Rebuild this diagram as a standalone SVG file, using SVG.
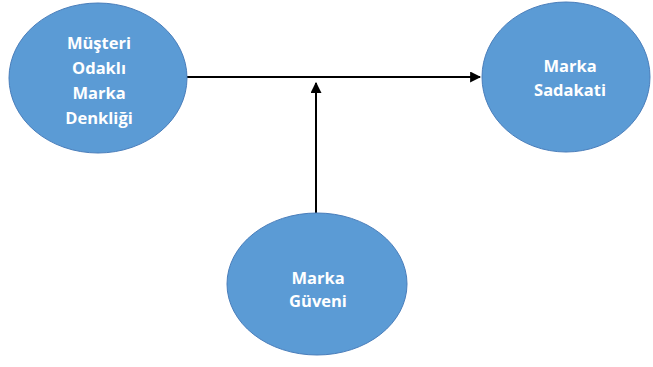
<svg xmlns="http://www.w3.org/2000/svg" width="653" height="367" viewBox="0 0 653 367">
  <style>
    .node ellipse { fill: #5B9BD5; stroke: #4A7EBB; stroke-width: 1; }
    .node text { fill: #FFFFFF; font-family: "Open Sans", "Liberation Sans", sans-serif; font-weight: bold; font-size: 16.5px; text-anchor: middle; dominant-baseline: central; }
    .edge { stroke: #000000; stroke-width: 2; fill: none; }
  </style>
  <defs>
    <marker id="arrow" viewBox="0 0 10 10" refX="9" refY="5" markerWidth="5.5" markerHeight="5.5" orient="auto" markerUnits="strokeWidth">
      <path d="M0,0 L10,5 L0,10 Z" fill="#000000"/>
    </marker>
  </defs>
  <rect width="653" height="367" fill="#FFFFFF"/>

  <g id="connectors">
    <line class="edge" x1="187" y1="77" x2="480" y2="77" marker-end="url(#arrow)"/>
    <line class="edge" x1="316" y1="213" x2="316" y2="83" marker-end="url(#arrow)"/>
  </g>

  <g id="node-musteri" class="node">
    <ellipse cx="98" cy="78" rx="89" ry="75"/>
    <text x="99" y="42">Müşteri</text>
    <text x="99" y="67">Odaklı</text>
    <text x="99" y="92">Marka</text>
    <text x="99" y="117">Denkliği</text>
  </g>

  <g id="node-sadakat" class="node">
    <ellipse cx="566" cy="77" rx="84" ry="75"/>
    <text x="570" y="65">Marka</text>
    <text x="570" y="89">Sadakati</text>
  </g>

  <g id="node-guven" class="node">
    <ellipse cx="317" cy="284" rx="90" ry="71"/>
    <text x="318" y="277">Marka</text>
    <text x="318" y="300">Güveni</text>
  </g>
</svg>
